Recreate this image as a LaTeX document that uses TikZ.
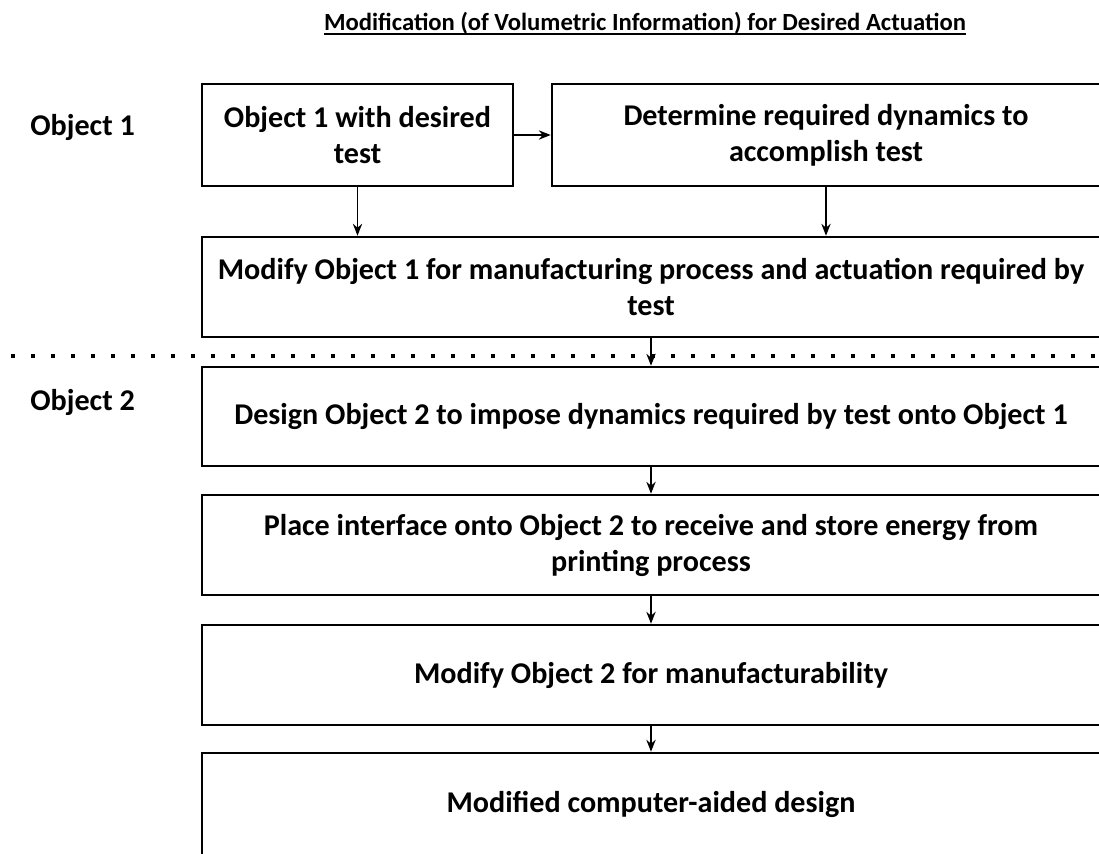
\documentclass[tikz,border=0pt]{standalone}
\usepackage{fontspec}
\setmainfont{Carlito}
\usetikzlibrary{arrows.meta}
\begin{document}
\begin{tikzpicture}[x=0.75pt,y=-0.75pt,
  boxfont/.style={font=\bfseries\fontsize{22.6pt}{27pt}\selectfont},
  box/.style={draw, line width=1.9pt, rectangle, align=center, boxfont, inner sep=0pt},
  arr/.style={line width=1.1pt, -{Stealth[length=9pt,width=7pt,inset=3pt]}},
  lbl/.style={boxfont, anchor=west, inner sep=0pt},
  sep/.style={line width=3.2pt, dash pattern=on 3.2pt off 11.8pt}]
\useasboundingbox (0,0) rectangle (1099,853);
% title
\node[font=\bfseries\fontsize{18.5pt}{20pt}\selectfont, inner sep=0pt, anchor=base] (T) at (645,30)
  {Modification (of Volumetric Information) for Desired Actuation};
\draw[line width=1.1pt] ([yshift=-3pt]T.base west) -- ([yshift=-3pt]T.base east);
% labels
\node[lbl] (L1) at (30,127) {Object 1};
\node[lbl] (L2) at (30,402) {Object 2};
% boxes
\node[box, minimum width=233.25pt, minimum height=76.5pt] (A) at (357.5,135) {Object 1 with desired\\test};
\node[box, minimum width=411pt, minimum height=76.5pt] (B) at (826,135) {Determine required dynamics to\\accomplish test};
\node[box, minimum width=673.5pt, minimum height=75pt] (C) at (651,287) {Modify Object 1 for manufacturing process and actuation required by\\test};
\node[box, minimum width=673.5pt, minimum height=74.25pt] (D) at (651,416.5) {Design Object 2 to impose dynamics required by test onto Object 1};
\node[box, minimum width=673.5pt, minimum height=75pt] (E) at (651,545) {Place interface onto Object 2 to receive and store energy from\\printing process};
\node[box, minimum width=673.5pt, minimum height=75pt] (F) at (651,675) {Modify Object 2 for manufacturability};
\node[box, minimum width=673.5pt, minimum height=76.5pt] (G) at (651,804) {Modified computer-aided design};
% separator
\coordinate (S1) at (11,356);
\coordinate (S2) at (1099,356);
\draw[sep] (S1) -- (S2);
% arrows
\draw[arr] (A.east) -- (B.west);
\draw[arr] (A.south) -- (A.south |- C.north);
\draw[arr] (B.south) -- (B.south |- C.north);
\draw[arr] (C.south) -- (D.north);
\draw[arr] (D.south) -- (E.north);
\draw[arr] (E.south) -- (F.north);
\draw[arr] (F.south) -- (G.north);
\end{tikzpicture}
\end{document}
